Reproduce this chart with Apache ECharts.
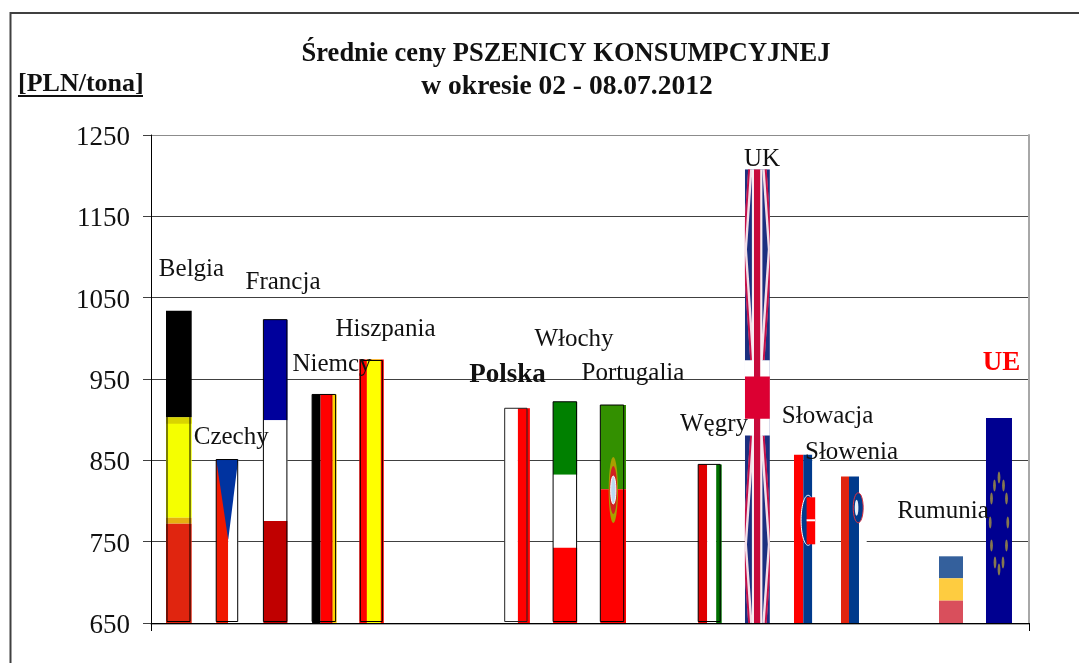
<!DOCTYPE html>
<html>
<head>
<meta charset="utf-8">
<title>Średnie ceny pszenicy konsumpcyjnej</title>
<script src="https://cdn.jsdelivr.net/npm/echarts@6/dist/echarts.min.js"></script>
<style>
html, body { margin: 0; padding: 0; background: #fff; }
#chart { width: 1079px; height: 663px; }
</style>
</head>
<body>
<div id="chart"></div>
<script>
const countries = ['Belgia', 'Czechy', 'Francja', 'Niemcy', 'Hiszpania', 'Polska', 'Włochy', 'Portugalia', 'Węgry', 'UK', 'Słowacja', 'Słowenia', 'Rumunia', 'UE'];
const slots = [0, 1, 2, 3, 4, 7, 8, 9, 11, 12, 13, 14, 16, 17];
const prices = [1034, 851, 1023, 931, 974, 914, 922, 918, 845, 1208, 857, 830, 732, 902];
const yTicks = [650, 750, 850, 950, 1050, 1150, 1250];

// label position relative to bar centre / bar top, px
const labelDx = [12.5, 4, 7.6, 8.4, 13.7, -9, 9.4, 20.2, 4.8, 4.6, 22, -2.3, -7.2, 3];
const labelDy = [-41.5, -22, -37, -30.5, -30, -33, -62.5, -31.5, -40, -10, -38.5, -24.5, -44.5, -55.5];

const SERIF = '"Liberation Serif", "Times New Roman", serif';
const INK = '#111111';
const GRID = '#404040';
const EDGE = '#a8a8a8';

const rect = (x1, y1, x2, y2, fill) => ({
  type: 'rect',
  shape: { x: x1, y: y1, width: x2 - x1, height: y2 - y1 },
  style: { fill: fill }
});
const outline = (x1, y1, x2, y2, color) => ({
  type: 'rect',
  shape: { x: x1, y: y1, width: x2 - x1, height: y2 - y1 },
  style: { fill: 'none', stroke: color || '#000', lineWidth: 1 }
});
const poly = (points, fill) => ({
  type: 'polygon',
  shape: { points: points },
  style: { fill: fill }
});
const oval = (cx, cy, rx, ry, fill, stroke) => ({
  type: 'ellipse',
  shape: { cx: cx, cy: cy, rx: rx, ry: ry },
  style: { fill: fill, stroke: stroke || 'none', lineWidth: 1 }
});
const path = (points, color, width) => ({
  type: 'polyline',
  shape: { points: points },
  style: { fill: 'none', stroke: color, lineWidth: width }
});

const unionJack = (cx, top, bot) => {
  const l = cx - 12.5, r = cx + 12.5, h = bot - top;
  const bandTop = top + h * 0.421, bandBot = top + h * 0.587;
  const crossTop = top + h * 0.457, crossBot = top + h * 0.55;
  const kids = [rect(l, top, r, bot, '#1c2f80')];
  const arms = [[-1, top, bandTop], [1, top, bandTop], [-1, bot, bandBot], [1, bot, bandBot]];
  arms.forEach((a) => {
    const s = a[0], end = a[1], inner = a[2];
    const line = [[cx + s * 7, end], [cx + s * 12.5, end + (inner - end) * 0.42], [cx + s * 5, inner]];
    kids.push(path(line, '#f3dfe8', 4.2));
    kids.push(path(line.map((q) => [q[0] + s * 1.3, q[1]]), '#c4104a', 2));
  });
  kids.push(rect(cx - 5.5, top, cx + 5, bot, '#f6eef2'));
  kids.push(rect(l, bandTop, r, bandBot, '#ffffff'));
  kids.push(rect(cx - 3.4, top, cx + 2.8, bot, '#c80a3c'));
  kids.push(rect(l, crossTop, r, crossBot, '#dc0032'));
  return { kids: kids, clip: { x: l, y: top, width: 25, height: h } };
};

const euStars = (cx, cy) => {
  const xs = [0, -4.5, 4.5, -7.5, 7.5, -8.8, 8.8, -7.5, 7.5, -4, 4, 0];
  const ys = [-45, -37, -37, -24, -24, 0, 0, 23, 23, 40, 40, 47];
  return xs.map((x, i) => oval(cx + x, cy + ys[i], 1.4, 6, '#86784f'));
};

// one painter per flag, offsets
const flagPainters = {
  Belgia: (cx, top, bot) => {
    const h = bot - top;
    return [
      rect(cx - 13, top, cx + 12.7, top + h * 0.342, '#000000'),
      rect(cx - 13, top + h * 0.342, cx + 12.7, top + h * 0.663, '#f5ff00'),
      rect(cx - 13, top + h * 0.342, cx + 12.7, top + h * 0.362, '#d9d400'),
      rect(cx - 13, top + h * 0.663, cx + 12.7, top + h * 0.682, '#e6b010'),
      rect(cx - 13, top + h * 0.682, cx + 12.7, bot, '#e0250f'),
      outline(cx - 12, top + 1, cx + 11, bot - 1.5)
    ];
  },
  Czechy: (cx, top, bot) => {
    const h = bot - top;
    return [
      rect(cx - 11, top, cx + 1, bot, '#f01800'),
      rect(cx + 1, top, cx + 11, bot, '#ffffff'),
      poly([[cx - 11, top], [cx + 11, top], [cx + 1, top + h * 0.49]], '#0033a0'),
      outline(cx - 11, top, cx + 10.5, bot - 1.5)
    ];
  },
  Francja: (cx, top, bot) => {
    const h = bot - top;
    return [
      rect(cx - 12, top, cx + 12, top + h * 0.332, '#00009c'),
      rect(cx - 12, top + h * 0.332, cx + 12, top + h * 0.664, '#ffffff'),
      rect(cx - 12, top + h * 0.664, cx + 12, bot, '#c00000'),
      outline(cx - 12, top, cx + 11.5, bot - 1.5)
    ];
  },
  Niemcy: (cx, top, bot) => [
    rect(cx - 11.5, top, cx - 3, bot, '#000000'),
    rect(cx - 3, top, cx + 9, bot, '#ff0000'),
    rect(cx + 7, top, cx + 9, bot, '#c80000'),
    rect(cx + 9, top, cx + 13, bot, '#ffd000'),
    outline(cx - 11.5, top, cx + 12, bot - 1.5)
  ],
  Hiszpania: (cx, top, bot) => [
    rect(cx - 12.5, top, cx + 12, bot, '#ff0000'),
    rect(cx - 5, top, cx + 9, bot, '#ffff00'),
    outline(cx - 11.5, top + 1, cx + 10.5, bot - 1.5)
  ],
  Polska: (cx, top, bot) => [
    rect(cx - 12, top, cx + 1.5, bot, '#ffffff'),
    rect(cx + 1.5, top, cx + 13.5, bot, '#ff0000'),
    outline(cx - 11.7, top, cx + 10.6, bot - 1.5, '#222')
  ],
  'Włochy': (cx, top, bot) => {
    const h = bot - top;
    return [
      rect(cx - 11.5, top, cx + 12.5, top + h * 0.33, '#008000'),
      rect(cx - 11.5, top + h * 0.33, cx + 12.5, top + h * 0.66, '#ffffff'),
      rect(cx - 11.5, top + h * 0.66, cx + 12.5, bot, '#ff0000'),
      outline(cx - 11.5, top, cx + 12, bot - 1.5)
    ];
  },
  Portugalia: (cx, top, bot) => {
    const h = bot - top;
    const cy = top + h * 0.39;
    return [
      rect(cx - 12.5, top, cx + 13.2, top + h * 0.386, '#339000'),
      rect(cx - 12.5, top + h * 0.386, cx + 13.2, bot, '#ff0000'),
      outline(cx - 12.5, top, cx + 10.9, bot - 1.5),
      oval(cx + 0.5, cy, 4.6, 33, '#a8a000'),
      oval(cx + 0.5, cy, 3.8, 24, '#d02020'),
      oval(cx + 0.5, cy, 2.6, 14, '#bcd8f0', '#ffffff')
    ];
  },
  'Węgry': (cx, top, bot) => [
    rect(cx - 11, top, cx - 2, bot, '#e00000'),
    rect(cx - 2, top, cx + 7, bot, '#ffffff'),
    rect(cx + 7, top, cx + 12.5, bot, '#007000'),
    outline(cx - 11, top, cx + 11, bot - 1.5)
  ],
  UK: (cx, top, bot) => {
    const uk = unionJack(cx, top, bot);
    return [{ type: 'group', children: uk.kids, clipPath: { type: 'rect', shape: uk.clip } }];
  },
  'Słowacja': (cx, top, bot) => {
    const h = bot - top;
    const cy = top + h * 0.39;
    return [
      rect(cx - 11.6, top, cx - 2.3, bot, '#ff0000'),
      rect(cx - 2.3, top, cx + 6.7, bot, '#003a8c'),
      rect(cx + 6.7, top, cx + 14.4, bot, '#ffffff'),
      oval(cx + 2.5, cy, 7, 25, '#003a8c', '#ffffff'),
      rect(cx + 1, cy - 23, cx + 9.6, cy + 24, '#ff0000'),
      rect(cx + 1, cy - 1, cx + 9.6, cy + 1, '#ffffff')
    ];
  },
  'Słowenia': (cx, top, bot) => {
    const h = bot - top;
    const cy = top + h * 0.213;
    return [
      rect(cx - 12.8, top, cx - 4.8, bot, '#e02510'),
      rect(cx - 4.8, top, cx + 5.2, bot, '#003a8c'),
      rect(cx + 5.2, top, cx + 12.9, bot, '#ffffff'),
      oval(cx + 4.4, cy, 5, 15, '#003a8c', '#e03040'),
      oval(cx + 2.8, cy, 1.8, 8, '#e8eef6')
    ];
  },
  Rumunia: (cx, top, bot) => {
    const h = bot - top;
    return [
      rect(cx - 11.2, top, cx + 12.8, top + h * 0.33, '#34609c'),
      rect(cx - 11.2, top + h * 0.33, cx + 12.8, top + h * 0.665, '#fecc40'),
      rect(cx - 11.2, top + h * 0.665, cx + 12.8, bot, '#d94f5c')
    ];
  },
  UE: (cx, top, bot) => [
    rect(cx - 12.4, top, cx + 13.6, bot, '#000090')
  ].concat(euStars(cx + 0.6, top + (bot - top) * 0.5 + 2))
};

const chart = echarts.init(document.getElementById('chart'));

chart.setOption({
  animation: false,
  backgroundColor: '#ffffff',
  title: [
    {
      text: 'Średnie ceny PSZENICY KONSUMPCYJNEJ',
      left: 566,
      top: 41,
      padding: 0,
      textAlign: 'center',
      textStyle: { fontFamily: SERIF, fontWeight: 'bold', fontSize: 26.5, color: INK }
    },
    {
      text: 'w okresie 02 - 08.07.2012',
      left: 567,
      top: 73,
      padding: 0,
      textAlign: 'center',
      textStyle: { fontFamily: SERIF, fontWeight: 'bold', fontSize: 27.5, color: INK }
    },
    {
      text: '[PLN/tona]',
      left: 18,
      top: 71,
      padding: 0,
      textStyle: { fontFamily: SERIF, fontWeight: 'bold', fontSize: 26, color: INK }
    }
  ],
  graphic: [
    { type: 'polyline', silent: true, shape: { points: [[10.5, 663], [10.5, 13], [1079, 13]] }, style: { fill: 'none', stroke: '#404040', lineWidth: 2 } },
    { type: 'line', silent: true, shape: { x1: 18, y1: 96, x2: 143, y2: 96 }, style: { stroke: '#111', lineWidth: 2 } }
  ],
  grid: { left: 151, right: 50, top: 135, height: 488, containLabel: false },
  xAxis: [
    {
      type: 'value',
      min: -0.581,
      max: 17.635,
      axisLabel: { show: false },
      splitLine: { show: false },
      axisLine: { show: true, onZero: false, lineStyle: { color: '#000', width: 1 } },
      axisTick: { show: true, length: 8, customValues: [-0.581, 17.635], lineStyle: { color: '#000' } }
    },
    {
      type: 'value',
      position: 'bottom',
      offset: 1,
      min: -0.581,
      max: 17.635,
      axisLabel: { show: false },
      splitLine: { show: false },
      axisTick: { show: false },
      axisLine: { show: true, onZero: false, lineStyle: { color: EDGE, width: 1 } }
    }
  ],
  yAxis: [
    {
      type: 'value',
      min: yTicks[0],
      max: yTicks[yTicks.length - 1],
      interval: 100,
      axisLine: { show: true, onZero: false, lineStyle: { color: '#000', width: 1 } },
      axisTick: { show: true, length: 8, lineStyle: { color: GRID } },
      axisLabel: {
        margin: 21,
        fontFamily: SERIF,
        fontSize: 27,
        color: INK,
        verticalAlign: 'top',
        lineHeight: 6,
        formatter: (v) => String(v)
      },
      splitLine: {
        show: true,
        lineStyle: { color: [GRID, GRID, GRID, GRID, GRID, GRID, '#8c8c8c'], width: 1 }
      }
    },
    {
      type: 'value',
      position: 'right',
      min: yTicks[0],
      max: yTicks[yTicks.length - 1],
      interval: 100,
      axisLine: { show: true, onZero: false, lineStyle: { color: EDGE, width: 2 } },
      axisTick: { show: false },
      axisLabel: { show: false },
      splitLine: { show: false }
    }
  ],
  series: [
    {
      name: 'flagi',
      type: 'custom',
      z: 3,
      encode: { x: 0, y: 1 },
      data: slots.map((s, i) => [s, prices[i]]),
      renderItem: (params, api) => {
        const head = api.coord([api.value(0), api.value(1)]);
        const foot = api.coord([api.value(0), yTicks[0]]);
        const paint = flagPainters[countries[params.dataIndex]];
        return { type: 'group', children: paint(head[0], head[1], foot[1]) };
      }
    },
    {
      name: 'etykiety',
      type: 'custom',
      z: 5,
      encode: { x: 0, y: 1 },
      data: slots.map((s, i) => [s, prices[i]]),
      renderItem: (params, api) => {
        const i = params.dataIndex;
        const head = api.coord([api.value(0), api.value(1)]);
        const name = countries[i];
        const strong = name === 'Polska' || name === 'UE';
        return {
          type: 'text',
          style: {
            text: name,
            x: head[0] + labelDx[i],
            y: head[1] + labelDy[i],
            align: 'center',
            verticalAlign: 'middle',
            font: (strong ? 'bold 27px ' : '25px ') + SERIF,
            fill: name === 'UE' ? '#ff0000' : INK
          }
        };
      }
    }
  ]
});
</script>
</body>
</html>
